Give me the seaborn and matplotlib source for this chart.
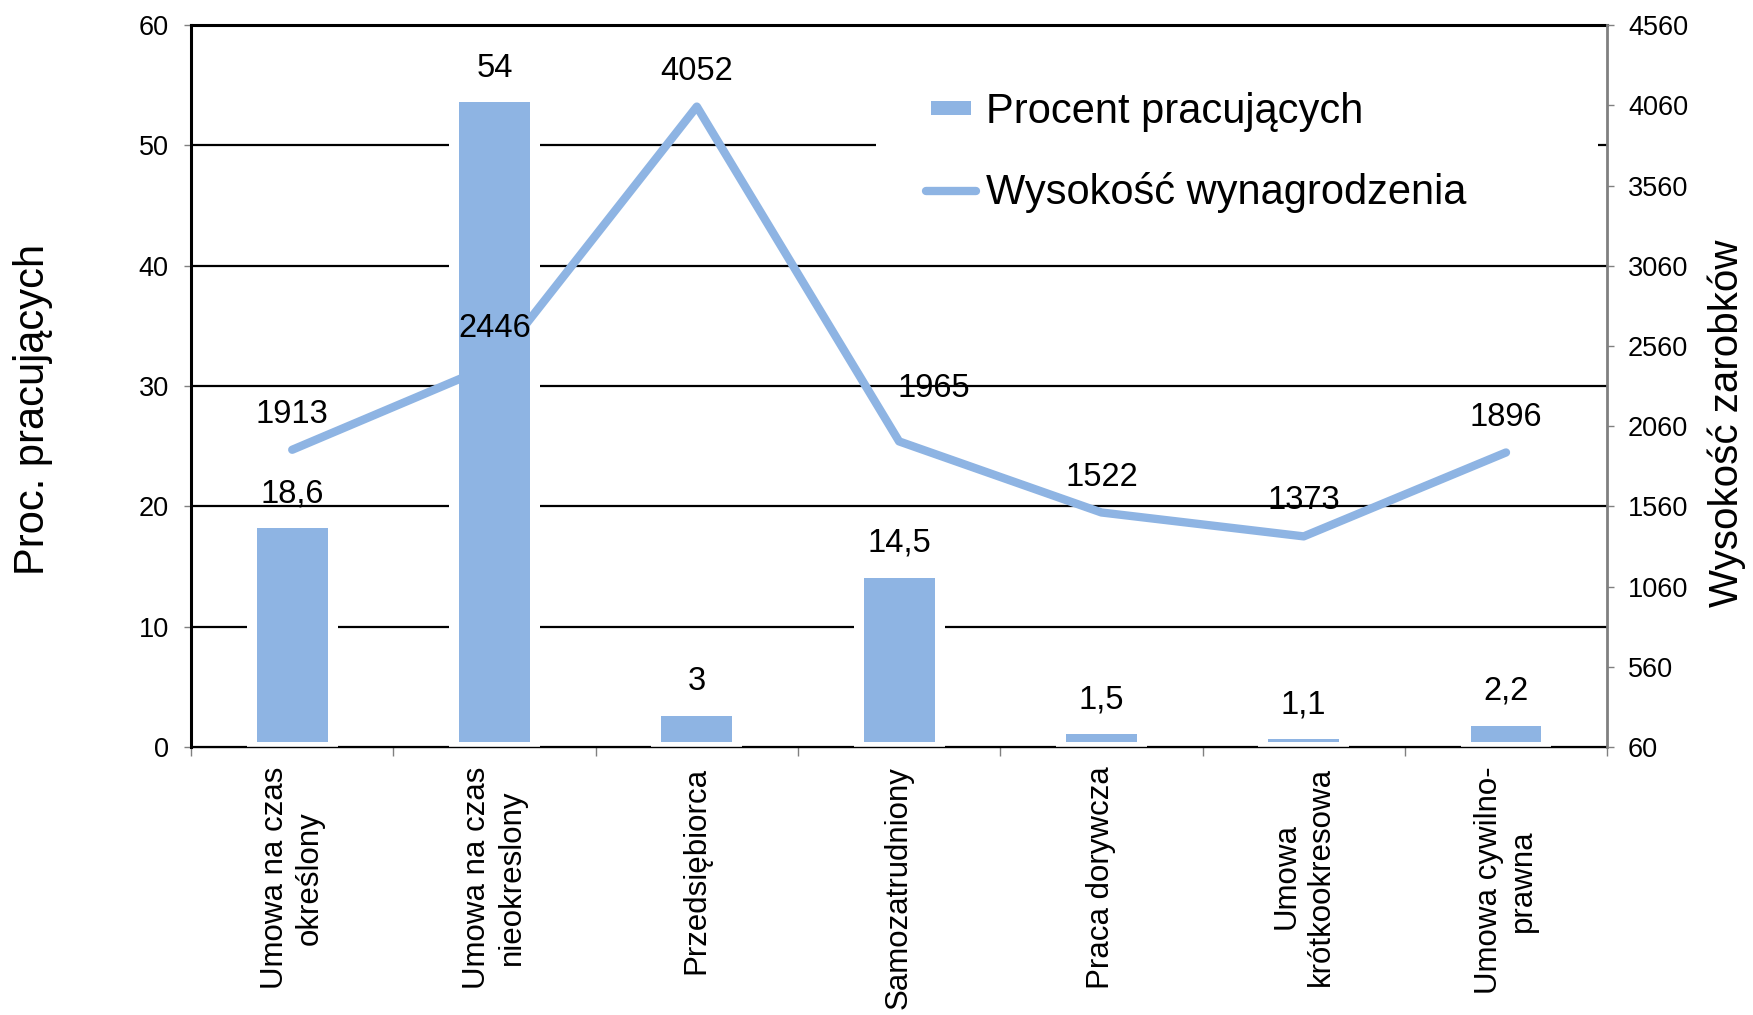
import numpy as np
import pandas as pd
import matplotlib.pyplot as plt
import seaborn as sns

sns.set_style("white")
plt.rcParams['font.family'] = ['Liberation Sans', 'DejaVu Sans']
plt.rcParams['text.color'] = 'black'
plt.rcParams['axes.labelcolor'] = 'black'

# --- dane ---
kategorie = ["Umowa na czas\nokreślony", "Umowa na czas\nnieokreslony", "Przedsiębiorca",
             "Samozatrudniony", "Praca dorywcza", "Umowa\nkrótkookresowa", "Umowa cywilno-\nprawna"]
procent = [18.6, 54, 3, 14.5, 1.5, 1.1, 2.2]
wynagrodzenie = [1913, 2446, 4052, 1965, 1522, 1373, 1896]

# przesuniecia etykiet linii (punkty)
przesuniecia = [(0, 25.5), (0, 25.5), (0, 25.5), (25, 38), (0, 25.5), (0, 25.5), (0, 25.5)]

NIEBIESKI = "#8EB4E3"

df = pd.DataFrame({'kategoria': kategorie, 'procent': procent, 'wynagrodzenie': wynagrodzenie})
df['poz'] = np.arange(len(df))

fig = plt.figure(figsize=(17.53, 10.15), dpi=100)
ax = fig.add_axes([0.109, 0.264, 0.8078, 0.7113])

# Słupki - procent pracujących
sns.barplot(data=df, x='kategoria', y='procent', color=NIEBIESKI, saturation=1, width=0.4,
            edgecolor='white', linewidth=7.2, ax=ax)
ax.set_ylim(0, 60)
ax.set_xlim(-0.5, len(df) - 0.5)
ax.set_yticks(range(0, 61, 10))
ax.grid(axis='y', color='black', linewidth=1.6)
ax.set_axisbelow(True)

for i, v in enumerate(procent):
    ax.annotate(f"{v:g}".replace('.', ','), (i, v), xytext=(0, 21), textcoords='offset points',
                ha='center', va='center', fontsize=23.5, color='black')

# Linia - wysokość wynagrodzenia
ax2 = ax.twinx()
sns.lineplot(data=df, x='poz', y='wynagrodzenie', color=NIEBIESKI, linewidth=6, legend=False, ax=ax2)
linia = ax2.lines[0]
linia.set_solid_capstyle('round')
ax2.set_ylim(60, 4560)
ax2.set_yticks(range(60, 4561, 500))
ax.set_xlim(-0.5, len(df) - 0.5)

for i, v in enumerate(wynagrodzenie):
    ax2.annotate(str(v), (i, v), xytext=przesuniecia[i], textcoords='offset points',
                 ha='center', va='center', fontsize=23.5, color='black')

# Osie
ax.set_xlabel('')
ax.set_ylabel('Proc. pracujących', fontsize=30, color='black')
ax.yaxis.set_label_coords(-0.0975, 0.4675)
ax2.set_xlabel('')
ax2.set_ylabel('Wysokość zarobków', fontsize=29, color='black')
ax2.yaxis.set_label_coords(1.0706, 0.448)

ax.set_xticks(np.arange(-0.5, len(df), 1), minor=True)
ax.tick_params(axis='x', which='major', length=0, pad=14, labelsize=22.5, labelcolor='black')
ax.tick_params(axis='x', which='minor', bottom=True, length=6.5, width=1, color='gray')
plt.setp(ax.get_xticklabels(), rotation=90, ha='center', va='top', multialignment='center')
ax.tick_params(axis='y', left=True, length=5, width=1, color='gray', pad=11, labelsize=19.5,
               labelcolor='black')
ax2.tick_params(axis='y', right=True, length=5, width=1, color='gray', pad=10, labelsize=19.5,
                labelcolor='black')

for s in ['top', 'left']:
    ax.spines[s].set_color('black')
    ax.spines[s].set_linewidth(2.2)
ax.spines['bottom'].set_color('black')
ax.spines['bottom'].set_linewidth(1)
ax.spines['right'].set_visible(False)
for s in ['top', 'left', 'bottom']:
    ax2.spines[s].set_visible(False)
ax2.spines['right'].set_color('gray')
ax2.spines['right'].set_linewidth(2)

# Legenda
leg = ax2.legend([ax.patches[0], linia], ['Procent pracujących', 'Wysokość wynagrodzenia'],
                 loc='upper left', bbox_to_anchor=(0.4997, 0.5, 0.412, 0.4586),
                 bbox_transform=fig.transFigure, mode='expand', borderaxespad=0,
                 borderpad=1.2, labelspacing=0.97, handlelength=1.2, handletextpad=0.25,
                 handleheight=0.5, fontsize=30, frameon=True, fancybox=False,
                 framealpha=1, facecolor='white', edgecolor='none')
for t in leg.get_texts():
    t.set_color('black')

fig.savefig('out.png', dpi=100)
